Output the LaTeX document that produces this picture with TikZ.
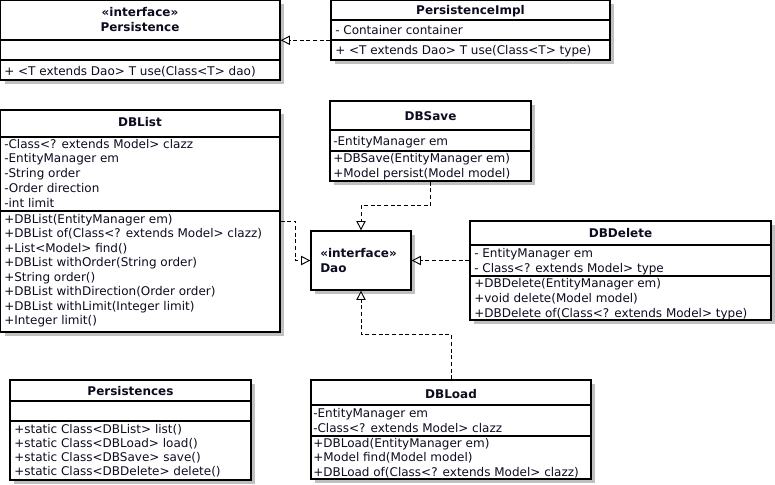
\documentclass[tikz,border=0pt]{standalone}
\usepackage{fontspec}
\setmainfont{DejaVu Sans}
\usetikzlibrary{arrows.meta,shadows,fit,calc}
\definecolor{ink}{RGB}{12,12,32}
\definecolor{shade}{RGB}{192,192,192}

% one text line per member: name prefix, x, first baseline, line pitch, members
\newcommand\umlrows[5]{%
  \foreach \rowtext [count=\i] in {#5}{%
    \node[row] (#1-\i) at (#2,{#3+(\i-1)*#4}) {\rowtext};}}

\begin{document}
\begin{tikzpicture}[x=0.75pt,y=-0.75pt,
  box/.style={draw=black, line width=0.95pt, fill=white, inner sep=0pt,
    drop shadow={shadow xshift=3pt, shadow yshift=-3pt, fill=shade, draw=none, opacity=1}},
  sep/.style={draw=black, line width=0.95pt},
  row/.style={anchor=base west, inner sep=0pt, text=ink,
    font=\fontsize{9}{11}\selectfont},
  head/.style={anchor=base, inner sep=0pt, text=ink,
    font=\fontsize{9}{11}\selectfont\bfseries},
  realize/.style={line width=0.7pt, dash pattern=on 3pt off 2pt,
    -{Triangle[length=7pt,width=7pt,fill=white]}}]

\useasboundingbox (0,0) rectangle (775,485);

% ---------- class frames ----------
\node[box, fit={(0.5,0.5) (280,80)}] (persistence) {};
\node[box, fit={(331,0.5) (610,60)}] (impl) {};
\node[box, fit={(0.5,110) (280,332)}] (dblist) {};
\node[box, fit={(330,101) (531,181)}] (dbsave) {};
\node[box, fit={(311,231) (411,290)}] (dao) {};
\node[box, fit={(470,221) (771,320)}] (dbdelete) {};
\node[box, fit={(10,380) (251,480)}] (persistences) {};
\node[box, fit={(311,380) (591,479)}] (dbload) {};

% ---------- compartment separators ----------
\draw[sep] (0.5,40) -- (280,40) (0.5,60) -- (280,60);
\draw[sep] (331,20) -- (610,20) (331,40) -- (610,40);
\draw[sep] (0.5,137) -- (280,137) (0.5,211) -- (280,211);
\draw[sep] (330,130) -- (531,130) (330,151) -- (531,151);
\draw[sep] (470,245) -- (771,245) (470,276) -- (771,276);
\draw[sep] (10,401) -- (251,401) (10,421) -- (251,421);
\draw[sep] (311,405) -- (591,405) (311,436) -- (591,436);

% ---------- Persistence ----------
\node[head] (persistence-st) at (140,17) {«interface»};
\node[head] (persistence-name) at (140,32) {Persistence};
\umlrows{persistence-op}{4}{75}{15}{{+ <T extends Dao> T use(Class<T> dao)}}

% ---------- PersistenceImpl ----------
\node[head] (impl-name) at (470.5,15) {PersistenceImpl};
\umlrows{impl-attr}{335}{35}{15}{{- Container container}}
\umlrows{impl-op}{335}{55}{15}{{+ <T extends Dao> T use(Class<T> type)}}

% ---------- DBList ----------
\node[head] (dblist-name) at (140,127) {DBList};
\umlrows{dblist-attr}{4}{148}{14.75}{{-Class<? extends Model> clazz},
  {-EntityManager em},{-String order},{-Order direction},{-int limit}}
\umlrows{dblist-op}{4}{223}{14.55}{{+DBList(EntityManager em)},
  {+DBList of(Class<? extends Model> clazz)},{+List<Model> find()},
  {+DBList withOrder(String order)},{+String order()},
  {+DBList withDirection(Order order)},{+DBList withLimit(Integer limit)},
  {+Integer limit()}}

% ---------- DBSave ----------
\node[head] (dbsave-name) at (430.5,121) {DBSave};
\umlrows{dbsave-attr}{333}{145}{15}{{-EntityManager em}}
\umlrows{dbsave-op}{333}{162.5}{14.5}{{+DBSave(EntityManager em)},
  {+Model persist(Model model)}}

% ---------- Dao ----------
\node[head, anchor=base west] (dao-st) at (320,257) {«interface»};
\node[head, anchor=base west] (dao-name) at (320,272) {Dao};

% ---------- DBDelete ----------
\node[head] (dbdelete-name) at (620.5,237) {DBDelete};
\umlrows{dbdelete-attr}{474}{257}{15}{{- EntityManager em},
  {- Class<? extends Model> type}}
\umlrows{dbdelete-op}{474}{287.5}{14.8}{{+DBDelete(EntityManager em)},
  {+void delete(Model model)},{+DBDelete of(Class<? extends Model> type)}}

% ---------- Persistences ----------
\node[head] (persistences-name) at (130.5,395) {Persistences};
\umlrows{persistences-op}{14}{433}{14}{{+static Class<DBList> list()},
  {+static Class<DBLoad> load()},{+static Class<DBSave> save()},
  {+static Class<DBDelete> delete()}}

% ---------- DBLoad ----------
\node[head] (dbload-name) at (451,398) {DBLoad};
\umlrows{dbload-attr}{313}{417}{15}{{-EntityManager em},
  {-Class<? extends Model> clazz}}
\umlrows{dbload-op}{313}{447.5}{14.3}{{+DBLoad(EntityManager em)},
  {+Model find(Model model)},{+DBLoad of(Class<? extends Model> clazz)}}

% ---------- realizations ----------
\draw[realize] (persistence.east -| impl.west) -- (persistence.east);
\draw[realize] (dblist.east) -- ++(15,0) |- (dao.west);
\draw[realize] (dbsave.south) -- ++(0,24) -| (dao.north);
\draw[realize] (dao.east -| dbdelete.west) -- (dao.east);
\draw[realize] (dbload.north) -- ++(0,-45) -| (dao.south);

\end{tikzpicture}
\end{document}
